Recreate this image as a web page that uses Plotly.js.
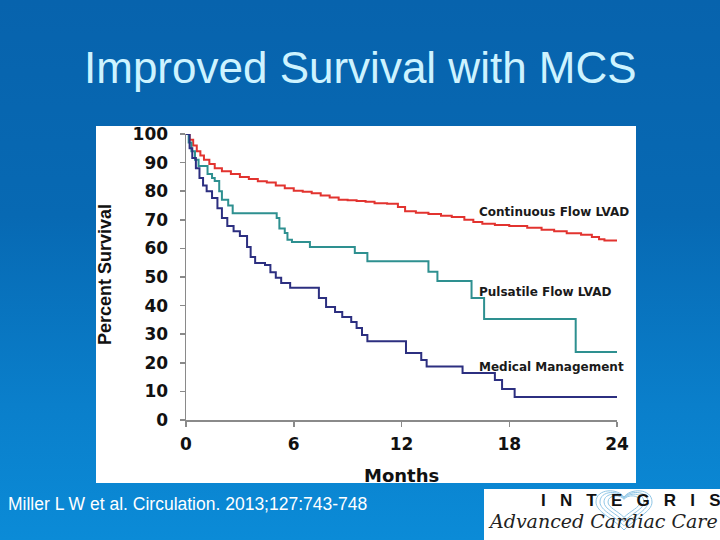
<!DOCTYPE html>
<html>
<head>
<meta charset="utf-8">
<script src="https://cdn.plot.ly/plotly-3.0.1.min.js"></script>
<style>
  html, body { margin:0; padding:0; width:720px; height:540px; overflow:hidden; }
  body { background: linear-gradient(180deg, #0763ad 0%, #0769b3 40%, #0a7fcb 75%, #0b8bd7 100%); }
  #chart { width:720px; height:540px; }
</style>
</head>
<body>
<div id="chart"></div>
<script>
// Continuous Flow LVAD
const cfMonths = [0,0.2,0.4,0.6,0.8,1.0,1.3,1.6,2.0,2.5,3.0,3.5,4.0,4.5,5.0,5.5,6.0,6.5,7.0,7.5,8.0,8.5,9.0,9.5,10.0,10.5,11.2,11.8,12.2,12.8,13.5,14.2,14.8,15.5,16.0,16.5,17.2,18.0,19.0,19.8,20.5,21.2,22.0,22.6,23.0,23.3,24];
const cfSurv   = [100,98,96,94,92.5,91,89.5,88,87,86,85,84.3,83.5,83,82,81,80.2,79.8,79.3,78.5,77.8,77,76.8,76.6,76.3,75.8,75.6,74.5,73,72.5,72,71.4,71,70,69.2,68.6,68.2,67.8,67.2,66.5,66,65.3,64.8,64,63.2,62.8,62.8];
// Pulsatile Flow LVAD
const pfMonths = [0,0.15,0.3,0.5,0.7,1.2,1.45,1.6,1.85,2.0,2.35,2.6,2.85,5.05,5.2,5.5,5.65,5.9,6.0,6.9,9.4,10.1,13.5,14.0,15.9,16.6,21.7,24];
const pfSurv   = [100,97,94,91,88.8,86,84.6,83.6,80,77,75,72.3,72.3,70.6,67,65.4,63,62.2,62.2,60.5,58.4,55.5,51.8,48.6,42.7,35.3,23.8,23.8];
// Medical Management
const mmMonths = [0,0.2,0.35,0.55,0.75,0.95,1.15,1.45,1.75,2.0,2.3,2.65,3.0,3.4,3.6,3.85,4.4,4.7,5.0,5.3,5.8,7.4,7.8,8.3,8.7,9.2,9.5,9.8,10.1,12.25,13.1,13.4,15.4,17.2,17.6,18.3,24];
const mmSurv   = [100,95,91.6,88,84.6,82,80,77.6,74,70.6,67.8,66,64.3,60.5,57,54.9,54.2,51.7,49.7,47.9,46.2,42.7,39.5,37.8,36,34.3,32.2,29.7,27.5,23.4,21,18.7,16.4,14,10.8,8,8];

const xTicks = [0,6,12,18,24];
const yTicks = [0,10,20,30,40,50,60,70,80,90,100];
const seriesNames = ["Continuous Flow LVAD","Pulsatile Flow LVAD","Medical Management"];
const labelPos = [[16.2,72.7],[16.2,44.8],[16.2,18.5]];

const FONT = "Liberation Sans, Arial, Helvetica, sans-serif";
const WIDE = "DejaVu Sans, Liberation Sans, Arial, sans-serif";

// pixel -> paper helpers (plot area: x 186..617, y 420..134)
const PX = px => (px - 186) / 431;
const PY = py => (420 - py) / 286;

const traces = [
  {x: cfMonths, y: cfSurv, name: seriesNames[0], mode:'lines', line:{shape:'hv', color:'#e2332f', width:2}},
  {x: pfMonths, y: pfSurv, name: seriesNames[1], mode:'lines', line:{shape:'hv', color:'#2e9090', width:2}},
  {x: mmMonths, y: mmSurv, name: seriesNames[2], mode:'lines', line:{shape:'hv', color:'#2c2f80', width:2}}
].map(t => Object.assign(t, {hoverinfo:'skip', showlegend:false, cliponaxis:false}));

const annotations = seriesNames.map((n,i) => ({
  x: labelPos[i][0], y: labelPos[i][1], xref:'x', yref:'y', text: n, showarrow:false,
  xanchor:'left', yanchor:'middle', font:{family:WIDE, size:12, color:'#1a1a1a', weight:'bold'}
}));

annotations.push(
  {xref:'paper', yref:'paper', x:PX(105), y:PY(275), text:'Percent Survival', textangle:-90, showarrow:false,
   xanchor:'center', yanchor:'middle', font:{family:FONT, size:18, color:'#111', weight:'bold'}},
  {xref:'paper', yref:'paper', x:PX(401), y:PY(475), text:'Months', showarrow:false,
   xanchor:'center', yanchor:'middle', font:{family:WIDE, size:18, color:'#111', weight:'bold'}},
  {xref:'paper', yref:'paper', x:PX(360), y:PY(68), text:'Improved Survival with MCS', showarrow:false,
   xanchor:'center', yanchor:'middle', font:{family:FONT, size:44, color:'#cdf3ff'}},
  {xref:'paper', yref:'paper', x:PX(6), y:PY(504), text:'Miller L W et al. Circulation. 2013;127:743-748', showarrow:false,
   xanchor:'left', yanchor:'middle', font:{family:FONT, size:17.5, color:'#ffffff'}},
  {xref:'paper', yref:'paper', x:PX(722), y:PY(500), text:'I&nbsp;&nbsp;&nbsp;N&nbsp;&nbsp;&nbsp;T&nbsp;&nbsp;&nbsp;E&nbsp;&nbsp;&nbsp;G&nbsp;&nbsp;&nbsp;R&nbsp;&nbsp;&nbsp;I&nbsp;&nbsp;&nbsp;S', showarrow:false,
   xanchor:'right', yanchor:'middle', font:{family:FONT, size:17, color:'#111', weight:'bold'}},
  {xref:'paper', yref:'paper', x:PX(486), y:PY(521), text:'<i>Advanced Cardiac Care</i>', showarrow:false,
   xanchor:'left', yanchor:'middle', font:{family:"DejaVu Serif, serif", size:19, color:'#222'}}
);

function heartPath(cx, top, w, h) {
  const l = cx - w/2, r = cx + w/2, b = top + h, dip = top + h*0.18, mid = top + h*0.3;
  const p = (x,y) => PX(x) + ',' + PY(y);
  return 'M' + p(cx,dip) +
    ' C' + p(cx - w*0.1, top - h*0.05) + ' ' + p(l, top - h*0.05) + ' ' + p(l, mid) +
    ' C' + p(l, top + h*0.55) + ' ' + p(cx - w*0.2, top + h*0.7) + ' ' + p(cx, b) +
    ' C' + p(cx + w*0.2, top + h*0.7) + ' ' + p(r, top + h*0.55) + ' ' + p(r, mid) +
    ' C' + p(r, top - h*0.05) + ' ' + p(cx + w*0.1, top - h*0.05) + ' ' + p(cx,dip) + ' Z';
}

const shapes = [
  {type:'rect', xref:'paper', yref:'paper', layer:'below',
   x0:PX(96), x1:PX(636), y0:PY(483), y1:PY(126),
   fillcolor:'#ffffff', line:{width:0}},
  {type:'rect', xref:'paper', yref:'paper', layer:'below',
   x0:PX(484), x1:PX(722), y0:PY(542), y1:PY(489),
   fillcolor:'#ffffff', line:{width:0}}
];
[[56,40],[48,34],[40,28],[32,22]].forEach(([w,h]) => {
  shapes.push({type:'path', xref:'paper', yref:'paper', layer:'above',
    path: heartPath(624, 490 + (40-h)*0.3, w, h), line:{color:'#8fc6e6', width:1}, fillcolor:'rgba(0,0,0,0)'});
});

const layout = {
  width:720, height:540,
  margin:{l:186, r:103, t:134, b:120, pad:0},
  paper_bgcolor:'rgba(0,0,0,0)', plot_bgcolor:'#ffffff',
  showlegend:false,
  xaxis:{range:[0,24], tickvals:xTicks, ticktext:xTicks.map(String), showgrid:false, zeroline:false,
         showline:true, linecolor:'#8a8a8a', linewidth:1.5, ticks:'outside', ticklen:5, tickcolor:'#8a8a8a', tickwidth:1.5,
         ticklabelstandoff:3,
         tickfont:{family:WIDE, size:17, color:'#111', weight:'bold'}, fixedrange:true},
  yaxis:{range:[0,100], tickvals:yTicks, ticktext:yTicks.map(String), showgrid:false, zeroline:false,
         showline:true, linecolor:'#8a8a8a', linewidth:1.5, ticks:'outside', ticklen:5, tickcolor:'#8a8a8a', tickwidth:1.5,
         ticklabelstandoff:8,
         tickfont:{family:WIDE, size:17, color:'#111', weight:'bold'}, fixedrange:true},
  annotations: annotations,
  shapes: shapes
};

Plotly.newPlot('chart', traces, layout, {staticPlot:true, displayModeBar:false});
</script>
</body>
</html>
